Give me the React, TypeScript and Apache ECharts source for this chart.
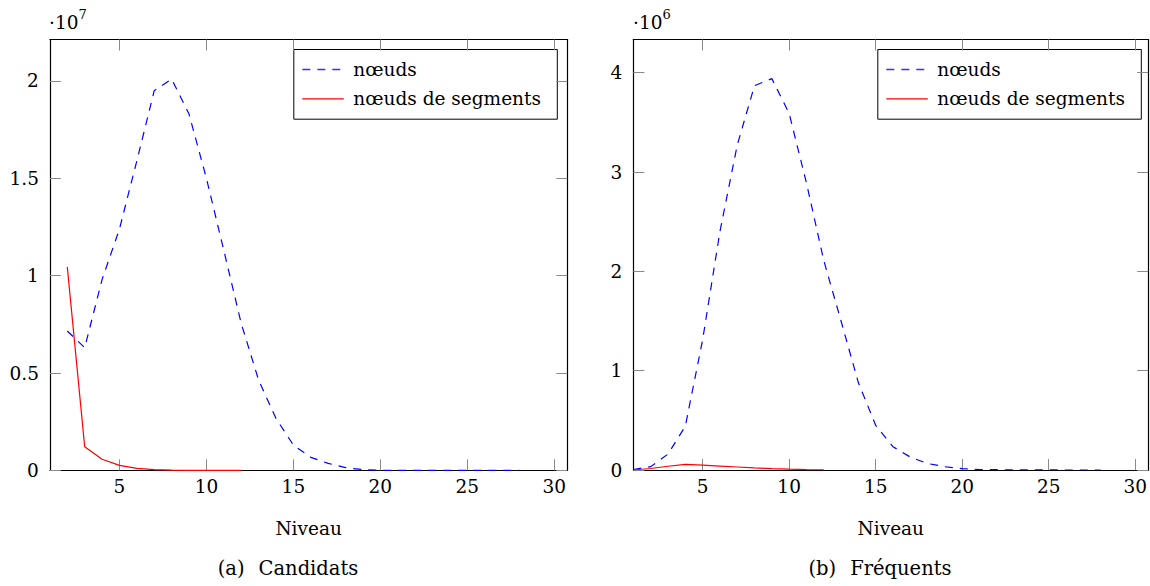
import React, { useEffect, useRef } from "react";
import * as echarts from "echarts";

// ---------- data ----------
const X_TICKS = [5, 10, 15, 20, 25, 30];
const LEFT_Y_TICKS = [0, 5000000, 10000000, 15000000, 20000000];
const RIGHT_Y_TICKS = [0, 1000000, 2000000, 3000000, 4000000];

// (a) Candidats
const candNodesLevels = [2, 3, 4, 5, 6, 7, 8, 9, 10, 11, 12, 13, 14, 15, 16, 17, 18, 19, 20, 21, 22, 23, 24, 25, 26, 27, 28];
const candNodes = [7160000, 6300000, 9800000, 12400000, 15900000, 19500000, 20100000, 18300000, 15000000, 11300000, 7550000, 4640000, 2670000, 1300000, 670000, 360000, 140000, 40000, 10000, 0, 0, 0, 0, 0, 0, 0, 0];
const candSegLevels = [2, 3, 4, 5, 6, 7, 8, 9, 10, 11, 12];
const candSeg = [10450000, 1220000, 570000, 260000, 100000, 40000, 15000, 5000, 2000, 1000, 0];

// (b) Fréquents
const freqNodesLevels = [1, 2, 3, 4, 5, 6, 7, 8, 9, 10, 11, 12, 13, 14, 15, 16, 17, 18, 19, 20, 21, 22, 23, 24, 25, 26, 27, 28];
const freqNodes = [5000, 34000, 160000, 440000, 1310000, 2400000, 3270000, 3870000, 3940000, 3590000, 2890000, 2110000, 1500000, 880000, 450000, 235000, 130000, 65000, 33000, 13000, 5000, 3000, 2000, 1000, 1000, 0, 0, 0];
const freqSegLevels = [1, 2, 3, 4, 5, 6, 7, 8, 9, 10, 11, 12];
const freqSeg = [0, 15000, 38000, 57000, 50000, 40000, 30000, 21000, 14000, 8000, 4000, 1000];

const SERIES_NAMES = ["nœuds", "nœuds de segments"];
const CAPTIONS = ["(a)", "Candidats", "(b)", "Fréquents"];
const AXIS_NAME = "Niveau";

const FONT = "DejaVu Serif";
const FS = 18.5;

function pairs(xs: number[], ys: number[]) {
  return xs.map((x, i) => [x, ys[i]]);
}

export default function App() {
  const ref = useRef<HTMLDivElement>(null);

  useEffect(() => {
    if (!ref.current) return;
    const chart = echarts.init(ref.current, undefined, { renderer: "svg" });

    const tickStyle = { color: "#8a8a8a", width: 1 };
    const lineStyle = { color: "#000", width: 1.2 };

    const xAxisBottom = (gridIndex: number) => ({
      type: "value",
      gridIndex,
      position: "bottom",
      min: 1,
      max: 30.75,
      name: AXIS_NAME,
      nameLocation: "middle",
      nameGap: 49,
      nameTextStyle: { fontFamily: FONT, fontSize: FS, color: "#000" },
      axisLine: { show: true, onZero: false, lineStyle },
      axisTick: { show: true, inside: true, length: 11, lineStyle: tickStyle, customValues: X_TICKS },
      axisLabel: { show: true, margin: 7, fontFamily: FONT, fontSize: FS, color: "#000", customValues: X_TICKS },
      splitLine: { show: false },
    });
    const xAxisTop = (gridIndex: number) => ({
      type: "value",
      gridIndex,
      position: "top",
      min: 1,
      max: 30.75,
      axisLine: { show: true, onZero: false, lineStyle },
      axisTick: { show: true, inside: true, length: 11, lineStyle: tickStyle, customValues: X_TICKS },
      axisLabel: { show: false },
      splitLine: { show: false },
    });
    const yAxis = (gridIndex: number, position: string, max: number, ticks: number[], div: number, labels: boolean) => ({
      type: "value",
      gridIndex,
      position,
      min: 0,
      max,
      axisLine: { show: true, onZero: false, lineStyle },
      axisTick: { show: true, inside: true, length: 11, lineStyle: tickStyle, customValues: ticks },
      axisLabel: {
        show: labels,
        margin: 11,
        fontFamily: FONT,
        fontSize: FS,
        color: "#000",
        customValues: ticks,
        formatter: (v: number) => String(Math.round((v / div) * 100) / 100),
      },
      splitLine: { show: false },
    });

    const blue = { color: "#0000ff", width: 1.2, type: [8, 7] };
    const red = { color: "#ff0000", width: 1.2, type: "solid" };

    const legend = (left: number) => {
      const top = 49;
      return {
        type: "group",
        left,
        top,
        z: 100,
        children: [
          { type: "rect", shape: { x: 0, y: 0, width: 263.5, height: 69.7 }, style: { fill: "#fff", stroke: "#000", lineWidth: 1 } },
          { type: "line", shape: { x1: 8.5, y1: 20, x2: 50, y2: 20 }, style: { stroke: "#3333ff", lineWidth: 1.4, lineDash: [8, 7] } },
          { type: "line", shape: { x1: 8.5, y1: 49.3, x2: 50, y2: 49.3 }, style: { stroke: "#ff0000", lineWidth: 1.3 } },
          { type: "text", x: 59.5, y: 20, style: { text: SERIES_NAMES[0], fontFamily: FONT, fontSize: FS, fill: "#000", verticalAlign: "middle" } },
          { type: "text", x: 59.5, y: 49.3, style: { text: SERIES_NAMES[1], fontFamily: FONT, fontSize: FS, fill: "#000", verticalAlign: "middle" } },
        ],
      };
    };

    const mult = (x: number, exp: string) => ({
      type: "text",
      x,
      y: 8,
      style: {
        text: "{a|·10}{s|" + exp + "}",
        rich: {
          a: { fontFamily: FONT, fontSize: FS, fill: "#000", lineHeight: 24, verticalAlign: "bottom" },
          s: { fontFamily: FONT, fontSize: 13, fill: "#000", lineHeight: 14, verticalAlign: "top" },
        },
        fill: "#000",
      },
    });

    const caption = (cx: number, label: string, text: string) => ({
      type: "text",
      x: cx,
      y: 568,
      style: {
        text: "{l|" + label + "}{t|" + text + "}",
        rich: {
          l: { fontFamily: FONT, fontSize: 19.5, fill: "#000", padding: [0, 14, 0, 0] },
          t: { fontFamily: FONT, fontSize: 19.5, fill: "#000" },
        },
        align: "center",
        verticalAlign: "middle",
      },
    });

    chart.setOption({
      animation: false,
      textStyle: { fontFamily: FONT },
      grid: [
        { left: 49.9, top: 39.5, width: 517.4, height: 430.9, containLabel: false },
        { left: 633.4, top: 39.5, width: 519.9, height: 430.5, containLabel: false },
      ],
      xAxis: [xAxisBottom(0), xAxisTop(0), xAxisBottom(1), xAxisTop(1)],
      yAxis: [
        yAxis(0, "left", 22130000, LEFT_Y_TICKS, 10000000, true),
        yAxis(0, "right", 22130000, LEFT_Y_TICKS, 10000000, false),
        yAxis(1, "left", 4334000, RIGHT_Y_TICKS, 1000000, true),
        yAxis(1, "right", 4334000, RIGHT_Y_TICKS, 1000000, false),
      ],
      series: [
        { name: SERIES_NAMES[0], type: "line", xAxisIndex: 0, yAxisIndex: 0, data: pairs(candNodesLevels, candNodes), symbol: "none", lineStyle: blue, z: 3 },
        { name: SERIES_NAMES[1], type: "line", xAxisIndex: 0, yAxisIndex: 0, data: pairs(candSegLevels, candSeg), symbol: "none", lineStyle: red, z: 4 },
        { name: SERIES_NAMES[0], type: "line", xAxisIndex: 2, yAxisIndex: 2, data: pairs(freqNodesLevels, freqNodes), symbol: "none", lineStyle: blue, z: 3 },
        { name: SERIES_NAMES[1], type: "line", xAxisIndex: 2, yAxisIndex: 2, data: pairs(freqSegLevels, freqSeg), symbol: "none", lineStyle: red, z: 4 },
      ],
      graphic: [
        legend(293.3),
        legend(877.3),
        mult(49, "7"),
        mult(633, "6"),
        caption(288, CAPTIONS[0], CAPTIONS[1]),
        caption(880, CAPTIONS[2], CAPTIONS[3]),
      ],
    });

    return () => chart.dispose();
  }, []);

  return (
    <div
      ref={ref}
      style={{ position: "fixed", left: 0, top: 0, width: 1150, height: 586, background: "#fff", overflow: "hidden" }}
    />
  );
}
